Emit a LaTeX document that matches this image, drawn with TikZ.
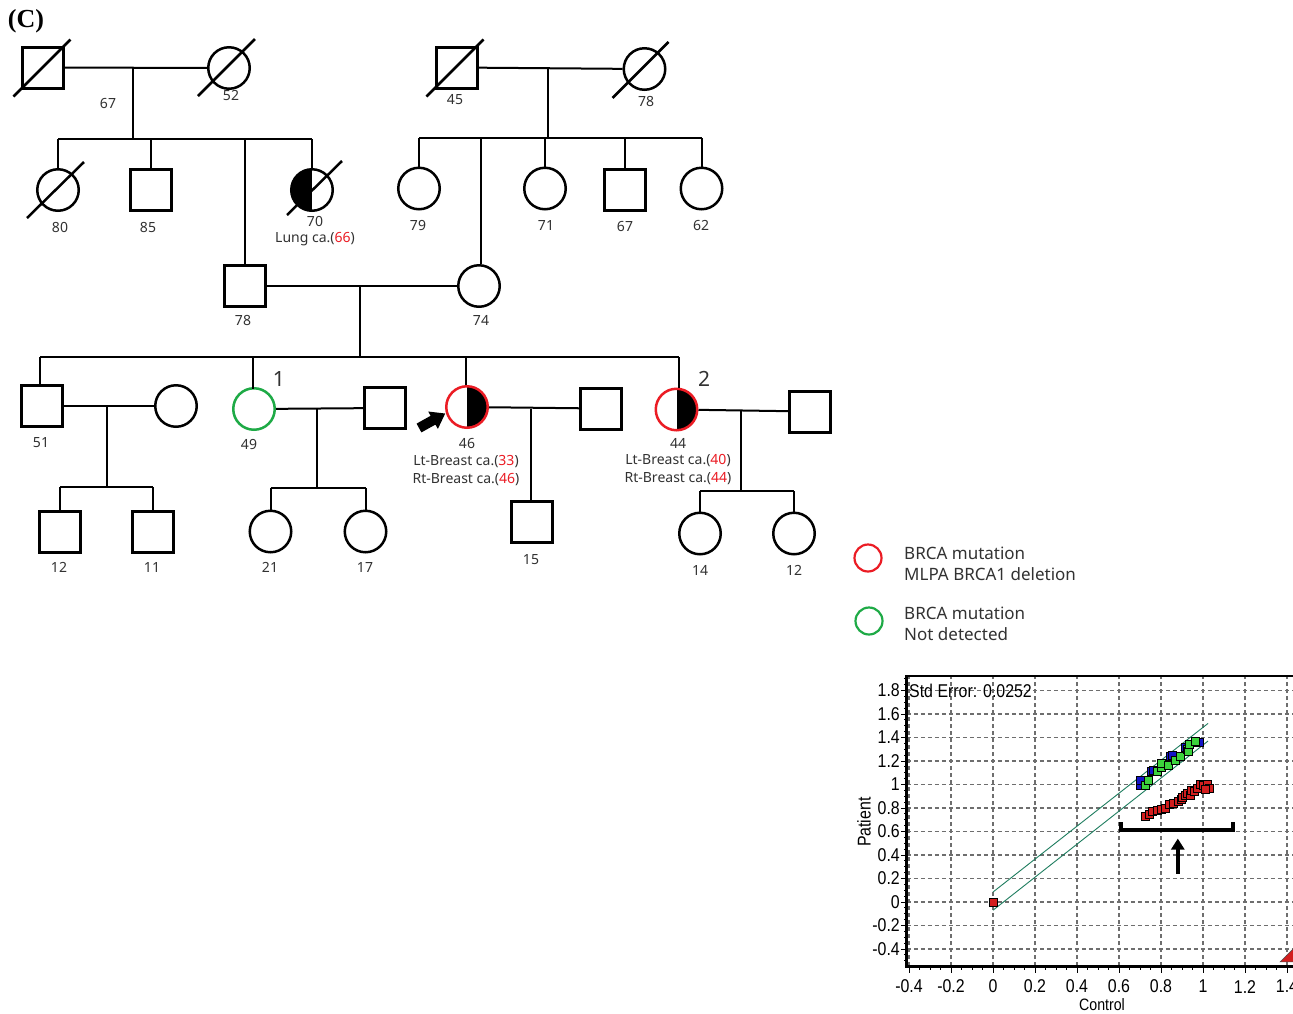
\documentclass[tikz,border=0pt]{standalone}
\usepackage{fontspec}
\setmainfont{Noto Sans}
\newfontfamily\capfont{Liberation Serif}
\newfontfamily\plotfont{Liberation Sans}
\usetikzlibrary{arrows.meta}
\definecolor{brcared}{RGB}{235,28,36}
\definecolor{brcagreen}{RGB}{30,170,70}
\definecolor{txt}{RGB}{50,50,50}
\definecolor{fitline}{RGB}{30,125,95}
\definecolor{gridgray}{RGB}{110,110,110}
\definecolor{ptblue}{RGB}{20,20,200}
\definecolor{ptgreen}{RGB}{60,210,60}
\definecolor{ptred}{RGB}{210,30,30}
\newcommand{\plotlbl}[1]{\scalebox{0.86}[1]{#1}}

\begin{document}
\begin{tikzpicture}[x=1pt,y=-1pt,
  pline/.style={line width=2pt},
  male/.style={rectangle,draw,line width=3pt,minimum size=41pt,inner sep=0pt},
  female/.style={circle,draw,line width=2.5pt,minimum size=41.5pt,inner sep=0pt},
  halfR/.style={path picture={\fill[black] (path picture bounding box.north) rectangle (path picture bounding box.south east);}},
  halfL/.style={path picture={\fill[black] (path picture bounding box.north) rectangle (path picture bounding box.south west);}},
  carrier/.style={draw=brcared},
  negative/.style={draw=brcagreen},
  dead/.style={line width=2.5pt},
  age/.style={font=\fontsize{14}{16}\selectfont,text=txt,inner sep=0pt},
  idx/.style={font=\fontsize{21}{23}\selectfont,text=txt,inner sep=0pt},
  legtxt/.style={font=\fontsize{17}{21}\selectfont,text=txt,inner sep=0pt,anchor=west,align=left},
  grid line/.style={gridgray,line width=1.3pt,dash pattern=on 4pt off 3pt},
  plotlab/.style={font=\plotfont\fontsize{18.5}{21}\selectfont,text=black,inner sep=0pt},
  fit/.style={fitline,line width=0.9pt},
  pt/.style={draw=black,line width=0.6pt}
]
\fill[white] (0,0) rectangle (1293,1013);
\useasboundingbox (0,0) rectangle (1293,1013);

\node[font=\capfont\bfseries\fontsize{26}{28}\selectfont,inner sep=0pt] (panel) at (26,21) {(C)};

% ---------- generation I ----------
\node[male] (gA) at (42.5,67.5) {};
\node[female] (gB) at (229,68) {};
\node[male] (gC) at (456.5,67.5) {};
\node[female] (gD) at (644.5,69) {};
\draw[dead] ([shift={(-29,29)}]gA.center) -- ([shift={(28,-28)}]gA.center);
\draw[dead] ([shift={(-31,28)}]gB.center) -- ([shift={(26,-29)}]gB.center);
\draw[dead] ([shift={(-30,29)}]gC.center) -- ([shift={(27,-28)}]gC.center);
\draw[dead] ([shift={(-32,29)}]gD.center) -- ([shift={(24,-27)}]gD.center);
\draw[pline] (gA) -- (gB);
\draw[pline] (gC) -- (gD);
\node[age] (tA) at (108,103) {67};
\node[age] (tB) at (231,95) {52};
\node[age] (tC) at (455,100) {45};
\node[age] (tD) at (646,101) {78};

% ---------- generation I children ----------
\node[female] (c80) at (58,190) {};
\node[male] (c85) at (151,189.5) {};
\node[female,halfL] (c70) at (312,190) {};
\draw[dead] ([shift={(-31,28)}]c80.center) -- ([shift={(26,-28)}]c80.center);
\draw[dead] ([shift={(-25,25)}]c70.center) -- ([shift={(30,-29)}]c70.center);
\node[female] (c79) at (419,188.5) {};
\node[female] (c71) at (545,188.5) {};
\node[male] (c67) at (625,190) {};
\node[female] (c62) at (701.5,188.5) {};

\coordinate (mA) at (133,67.5);
\coordinate (sA) at (133,139);
\draw[pline] (mA) -- (sA);
\draw[pline] (c80.north |- sA) -- (c70.north |- sA);
\draw[pline] (c80.north) -- (c80.north |- sA);
\draw[pline] (c85.north) -- (c85.north |- sA);
\draw[pline] (c70.north) -- (c70.north |- sA);

\coordinate (mB) at (548,69);
\coordinate (sB) at (548,138);
\draw[pline] (mB) -- (sB);
\draw[pline] (c79.north |- sB) -- (c62.north |- sB);
\draw[pline] (c79.north) -- (c79.north |- sB);
\draw[pline] (c71.north) -- (c71.north |- sB);
\draw[pline] (c67.north) -- (c67.north |- sB);
\draw[pline] (c62.north) -- (c62.north |- sB);

\node[age] (t80) at (60,227) {80};
\node[age] (t85) at (148,227) {85};
\node[age] (t70) at (315,221) {70};
\node[age] (t70c) at (315,239) {Lung ca.(\textcolor{brcared}{66})};
\node[age] (t79) at (418,225) {79};
\node[age] (t71) at (546,225) {71};
\node[age] (t67) at (625,226) {67};
\node[age] (t62) at (701,225) {62};

% ---------- generation II ----------
\node[male] (p78) at (245,286) {};
\node[female] (p74) at (479,286) {};
\draw[pline] (p78) -- (p74);
\draw[pline] (p78.north) -- (p78.north |- sA);
\draw[pline] ([xshift=2pt]p74.north) -- ([xshift=2pt]p74.north |- sB);
\node[age] (t78) at (243,320) {78};
\node[age] (t74) at (481,320) {74};

% ---------- generation III ----------
\node[male] (s51) at (42,406) {};
\node[female] (w51) at (176,406) {};
\node[female,negative] (s49) at (254,409) {};
\node[male] (h49) at (385,408) {};
\node[female,carrier,halfR] (s46) at (467,407) {};
\node[male] (h46) at (601,408.5) {};
\node[female,carrier,halfR] (s44) at (676.5,409.5) {};
\node[male] (h44) at (810,411.5) {};

\coordinate (mC) at (360,286);
\coordinate (sC) at (360,357);
\draw[pline] (mC) -- (sC);
\draw[pline] ([xshift=-2pt]s51.north |- sC) -- ([xshift=2pt]s44.north |- sC);
\draw[pline] ([xshift=-2pt]s51.north) -- ([xshift=-2pt]s51.north |- sC);
\draw[pline] ([xshift=-1pt,yshift=-2pt]s49.north) -- ([xshift=-1pt]s49.north |- sC);
\draw[pline] ([xshift=-1pt]s46.north) -- ([xshift=-1pt]s46.north |- sC);
\draw[pline] ([xshift=2pt]s44.north) -- ([xshift=2pt]s44.north |- sC);

\draw[pline] (s51) -- (w51);
\draw[pline] (s49) -- (h49);
\draw[pline] (s46) -- (h46);
\draw[pline] (s44) -- (h44);

\node[idx] (n1) at (279,379) {1};
\node[idx] (n2) at (704,379) {2};

% proband marker
\fill (416.6,423.6) -- (430.6,415.8) -- (428.2,411.5) -- (445.2,413.5)
  -- (437.9,428.9) -- (435.4,424.6) -- (421.4,432.4) -- cycle;

\node[age] (t51) at (41,443) {51};
\node[age] (t49) at (249,444) {49};
\node[age] (t46) at (467,443) {46};
\node[age] (t46a) at (466,462) {Lt-Breast ca.(\textcolor{brcared}{33})};
\node[age] (t46b) at (466,480) {Rt-Breast ca.(\textcolor{brcared}{46})};
\node[age] (t44) at (678,443) {44};
\node[age] (t44a) at (678,461) {Lt-Breast ca.(\textcolor{brcared}{40})};
\node[age] (t44b) at (678,479) {Rt-Breast ca.(\textcolor{brcared}{44})};

% ---------- generation IV ----------
\node[male] (k12a) at (60,532) {};
\node[male] (k11) at (152.5,532) {};
\node[female] (k21) at (270.5,531.5) {};
\node[female] (k17) at (365.5,531.5) {};
\node[male] (k15) at (532,522) {};
\node[female] (k14) at (700,533.5) {};
\node[female] (k12b) at (794,533.5) {};

\coordinate (mD) at (107,406);
\coordinate (sD) at (107,487);
\draw[pline] (mD) -- (sD);
\draw[pline] (k12a.north |- sD) -- (k11.north |- sD);
\draw[pline] (k12a.north) -- (k12a.north |- sD);
\draw[pline] (k11.north) -- (k11.north |- sD);

\coordinate (mE) at (317,409);
\coordinate (sE) at (317,488);
\draw[pline] (mE) -- (sE);
\draw[pline] (k21.north |- sE) -- (k17.north |- sE);
\draw[pline] (k21.north) -- (k21.north |- sE);
\draw[pline] (k17.north) -- (k17.north |- sE);

\coordinate (mF) at (531,408.5);
\draw[pline] (mF) -- (mF |- k15.north);

\coordinate (mG) at (741,411);
\coordinate (sG) at (741,491);
\draw[pline] (mG) -- (sG);
\draw[pline] (k14.north |- sG) -- (k12b.north |- sG);
\draw[pline] (k14.north) -- (k14.north |- sG);
\draw[pline] (k12b.north) -- (k12b.north |- sG);

\node[age] (t12a) at (59,567) {12};
\node[age] (t11) at (152,567) {11};
\node[age] (t21) at (270,567) {21};
\node[age] (t17) at (365,567) {17};
\node[age] (t15) at (531,560) {15};
\node[age] (t14) at (700,570) {14};
\node[age] (t12b) at (794,570) {12};

% ---------- legend ----------
\node[circle,draw=brcared,line width=2.2pt,minimum size=27pt,inner sep=0pt] (legR) at (868,558) {};
\node[circle,draw=brcagreen,line width=2.2pt,minimum size=27pt,inner sep=0pt] (legG) at (869,621) {};
\node[legtxt] (legRt) at (904,564) {BRCA mutation\\MLPA BRCA1 deletion};
\node[legtxt] (legGt) at (904,624) {BRCA mutation\\Not detected};

% ---------- MLPA ratio plot ----------
\begin{scope}[shift={(993,902)},x=210pt,y=117.5pt]
  \begin{scope}
    \clip (-0.7,-1.0) rectangle (1.4286,2.0);
    \foreach \i in {-2,...,7}
      \draw[grid line] ({\i*0.2},-0.545) -- ({\i*0.2},1.923);
    \foreach \i in {-2,...,9}
      \draw[grid line] (-0.41,{\i*0.2}) -- (1.45,{\i*0.2});
    % minor and major ticks
    \foreach \i in {-8,...,28}
      \draw[line width=0.8pt] ({\i*0.05},-0.545) -- ++(0,-4pt);
    \foreach \i in {-2,...,7}
      \draw[line width=0.8pt] ({\i*0.2},-0.545) -- ++(0,-7pt);
    \foreach \i in {-10,...,38}
      \draw[line width=0.8pt] (-0.41,{\i*0.05}) -- ++(-3pt,0);
    \foreach \i in {-2,...,9}
      \draw[line width=0.8pt] (-0.41,{\i*0.2}) -- ++(-6pt,0);
    % frame
    \draw[line width=1.5pt] (-0.41,1.923) -- (1.45,1.923);
    \draw[line width=3pt] (1.45,-0.545) -- (-0.41,-0.545) -- (-0.41,1.93);
    % tolerance band
    \draw[fit] (0,0.085) -- (1.024,1.52);
    \draw[fit] (0,-0.07) -- (1.024,1.37);
    % probes
    \foreach \px/\py in {0.703/0.996,0.70/1.04,0.756/1.109,0.765/1.12,0.843/1.237,0.855/1.25,0.914/1.32,0.97/1.356,0.982/1.356}
      \filldraw[pt,fill=ptblue] (\px,\py) ++(-4pt,-4pt) rectangle ++(8pt,8pt);
    \foreach \px/\py in {0.724/0.996,0.74/1.04,0.78/1.11,0.80/1.15,0.803/1.18,0.835/1.165,0.87/1.21,0.89/1.237,0.924/1.30,0.93/1.28,0.935/1.344,0.962/1.364}
      \filldraw[pt,fill=ptgreen] (\px,\py) ++(-4pt,-4pt) rectangle ++(8pt,8pt);
    \foreach \px/\py in {0/0,0.724/0.726,0.745/0.745,0.76/0.77,0.78/0.78,0.80/0.79,0.82/0.80,0.84/0.83,0.86/0.84,0.88/0.86,0.895/0.87,0.90/0.89,0.915/0.91,0.925/0.925,0.94/0.91,0.945/0.95,0.96/0.94,0.975/0.97,0.985/1.0,1.0/0.99,1.02/1.0,1.03/0.97,1.01/0.96}
      \filldraw[pt,fill=ptred] (\px,\py) ++(-4pt,-4pt) rectangle ++(8pt,8pt);
    \filldraw[draw=black!70,fill=ptred,line width=0.6pt] (1.367,-0.51) -- (1.44,-0.38) -- (1.51,-0.51) -- cycle;
    % deleted probes bracket and arrow
    \draw[line width=4pt] (0.608,0.68) -- (0.608,0.61) -- (1.141,0.61) -- (1.141,0.68);
    \draw[line width=3.5pt,-{Triangle[length=11pt,width=13pt]}] (0.88,0.24) -- (0.88,0.54);
  \end{scope}
  % axis labels
  \foreach \i/\t in {-2/-0.4,-1/-0.2,0/0,1/0.2,2/0.4,3/0.6,4/0.8,5/1,6/1.2,7/1.4}
    \node[plotlab] (xl\i) at ({\i*0.2},-0.72) {\plotlbl{\t}};
  \foreach \i/\t in {-2/-0.4,-1/-0.2,0/0,1/0.2,2/0.4,3/0.6,4/0.8,5/1,6/1.2,7/1.4,8/1.6,9/1.8}
    \node[plotlab,anchor=east] (yl\i) at (-0.443,{\i*0.2}) {\plotlbl{\t}};
  \node[plotlab,anchor=west] (stderr) at (-0.40,1.80) {\plotlbl{Std Error: 0.0252}};
  \node[plotlab,font=\plotfont\fontsize{16.5}{19}\selectfont] (xname) at (0.519,-0.87) {\plotlbl{Control}};
  \node[plotlab,rotate=90] (yname) at (-0.614,0.68) {\plotlbl{Patient}};
\end{scope}
\end{tikzpicture}
\end{document}
